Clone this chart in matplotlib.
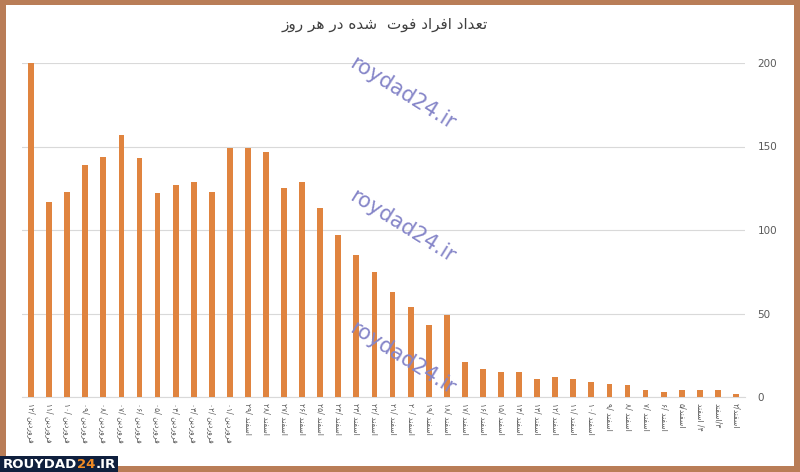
import matplotlib
matplotlib.use("Agg")
import matplotlib.pyplot as plt
from matplotlib.patches import Rectangle

# deaths per day, left to right (12 Farvardin back to 2 Esfand)
deaths = [200, 117, 123, 139, 144, 157, 143, 122, 127, 129, 123, 149,
          149, 147, 125, 129, 113, 97, 85, 75, 63, 54, 43, 49,
          21, 17, 15, 15, 11, 12, 11, 9, 8, 7, 4, 3, 4, 4, 4, 2]
far_days = ["۱۲", "۱۱", "۱۰", "۰۹", "۰۸", "۰۷", "۰۶", "۰۵", "۰۴", "۰۳", "۰۲", "۰۱"]
esf_days = ["۲۹", "۲۸", "۲۷", "۲۶", "۲۵", "۲۴", "۲۳", "۲۲", "۲۱", "۲۰", "۱۹", "۱۸",
            "۱۷", "۱۶", "۱۵", "۱۴", "۱۳", "۱۲", "۱۱", "۱۰", "۹", "۸", "۷", "۶",
            "۵", "۴", "۳", "۲"]
title = "تعداد افراد فوت  شده در هر روز"
yticks = [0, 50, 100, 150, 200]

# arabic presentation forms: isolated, final, initial, medial
FORMS = {
    'ا': ('\uFE8D', '\uFE8E', None, None),
    'د': ('\uFEA9', '\uFEAA', None, None),
    'ر': ('\uFEAD', '\uFEAE', None, None),
    'ز': ('\uFEAF', '\uFEB0', None, None),
    'و': ('\uFEED', '\uFEEE', None, None),
    'ت': ('\uFE95', '\uFE96', '\uFE97', '\uFE98'),
    'ع': ('\uFEC9', '\uFECA', '\uFECB', '\uFECC'),
    'ف': ('\uFED1', '\uFED2', '\uFED3', '\uFED4'),
    'ش': ('\uFEB5', '\uFEB6', '\uFEB7', '\uFEB8'),
    'ه': ('\uFEE9', '\uFEEA', '\uFEEB', '\uFEEC'),
    'ن': ('\uFEE5', '\uFEE6', '\uFEE7', '\uFEE8'),
    'س': ('\uFEB1', '\uFEB2', '\uFEB3', '\uFEB4'),
    'ی': ('\uFBFC', '\uFBFD', '\uFBFE', '\uFBFF'),
}


def shape(s):
    out = []
    for i, c in enumerate(s):
        if c not in FORMS:
            out.append(c)
            continue
        prev = s[i - 1] if i > 0 else ''
        nxt = s[i + 1] if i < len(s) - 1 else ''
        jp = prev in FORMS and FORMS[prev][2] is not None
        jn = FORMS[c][2] is not None and nxt in FORMS
        f = FORMS[c]
        if jp and jn:
            out.append(f[3])
        elif jp:
            out.append(f[1])
        elif jn:
            out.append(f[2])
        else:
            out.append(f[0])
    return ''.join(out)[::-1]


far = shape("فروردین")
esf = shape("اسفند")
labels = [d + "/ " + far for d in far_days]
for d in esf_days:
    if d in ("۴",):
        labels.append(esf + " /" + d)
    elif d in ("۳",):
        labels.append(esf + "/" + d)
    elif d in ("۵", "۲"):
        labels.append(d + "/" + esf)
    else:
        labels.append(d + "/ " + esf)

fig = plt.figure(figsize=(8, 4.72), dpi=100, facecolor="#B97D57")
fig.patches.append(Rectangle((6 / 800, 6 / 472), 788 / 800, 461 / 472,
                             transform=fig.transFigure, facecolor="white",
                             edgecolor="none", zorder=-5))

ax = fig.add_axes([22 / 800, 1 - 397 / 472, 723 / 800, 334 / 472])
ax.set_zorder(2)
ax.set_facecolor("none")
x = list(range(len(deaths)))
ax.bar(x, deaths, width=0.32, color="#E0843F", zorder=3)
ax.set_xlim(-0.5, len(deaths) - 0.5)
ax.set_ylim(0, 200)
ax.set_yticks(yticks)
ax.yaxis.tick_right()
ax.tick_params(axis="y", length=0, pad=9, labelsize=7.5, labelcolor="#595959")
ax.set_xticks(x)
ax.set_xticklabels(labels, rotation=-90, fontsize=5.5, color="#595959",
                   family="DejaVu Sans")
ax.tick_params(axis="x", length=0, pad=4)
ax.grid(axis="y", color="#D9D9D9", linewidth=0.8, zorder=0)
for sp in ["top", "left", "right"]:
    ax.spines[sp].set_visible(False)
ax.spines["bottom"].set_color("#D9D9D9")
ax.spines["bottom"].set_zorder(1)

fig.text(385 / 800, 1 - 25 / 472, shape(title), ha="center", va="center",
         fontsize=11, color="#404040", family="DejaVu Sans")

for cy in [93, 226, 358]:
    fig.text(402 / 800, 1 - cy / 472, "roydad24.ir", ha="center", va="center",
             rotation=-32, fontsize=15, color="#8585C8", zorder=5)

# logo box
fig.patches.append(Rectangle((0, 0), 118 / 800, 16 / 472, transform=fig.transFigure,
                             facecolor="#0F1F3D", edgecolor="none", zorder=6))
t = fig.text(3 / 800, 8 / 472, "ROUYDAD", ha="left", va="center", fontsize=9.5,
             color="white", weight="bold", zorder=7)
fig.canvas.draw()
bb = t.get_window_extent()
t2 = fig.text(bb.x1 / 800, 8 / 472, "24", ha="left", va="center", fontsize=9.5,
              color="#F08A24", weight="bold", zorder=7)
bb2 = t2.get_window_extent(renderer=fig.canvas.get_renderer())
fig.text(bb2.x1 / 800, 8 / 472, ".IR", ha="left", va="center", fontsize=9.5,
         color="white", weight="bold", zorder=7)

fig.savefig("out.png", dpi=100, facecolor=fig.get_facecolor())
